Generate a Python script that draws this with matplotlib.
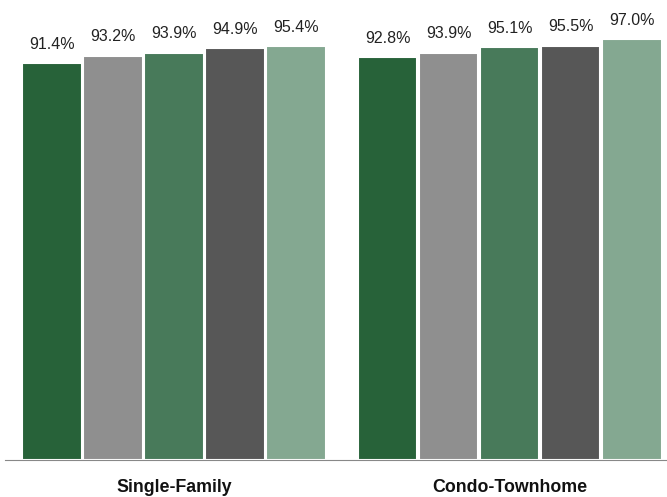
import matplotlib
matplotlib.use("Agg")
import matplotlib.pyplot as plt

# Data
groups = ["Single-Family", "Condo-Townhome"]
single_family = [91.4, 93.2, 93.9, 94.9, 95.4]
condo_townhome = [92.8, 93.9, 95.1, 95.5, 97.0]
colors = ["#276239", "#8f8f8f", "#487a5a", "#575757", "#84a891"]

plt.rcParams['font.family'] = ['Liberation Sans', 'DejaVu Sans']

fig = plt.figure(figsize=(6.67, 4.97), dpi=100)
ax = fig.add_axes([5 / 667, 37 / 497, 662 / 667, 460 / 497])

group_gap = 5.5
for g, values in enumerate([single_family, condo_townhome]):
    for j, v in enumerate(values):
        x = g * group_gap + j
        ax.bar(x, v, width=0.98, color=colors[j], edgecolor="white", linewidth=1.5)
        ax.text(x, v + 2.6, "{:.1f}%".format(v), ha="center", va="bottom", fontsize=11.5, color="#222222")
    ax.text(g * group_gap + 2, -4.3, groups[g], ha="center", va="top",
            fontsize=12.8, fontweight="bold", color="#111111")

ax.set_xlim(-0.77, 10.08)
ax.set_ylim(0, 106)
for s in ["top", "right", "left"]:
    ax.spines[s].set_visible(False)
ax.spines["bottom"].set_color("#888888")
ax.set_xticks([])
ax.set_yticks([])

fig.savefig("out.png", dpi=100)
